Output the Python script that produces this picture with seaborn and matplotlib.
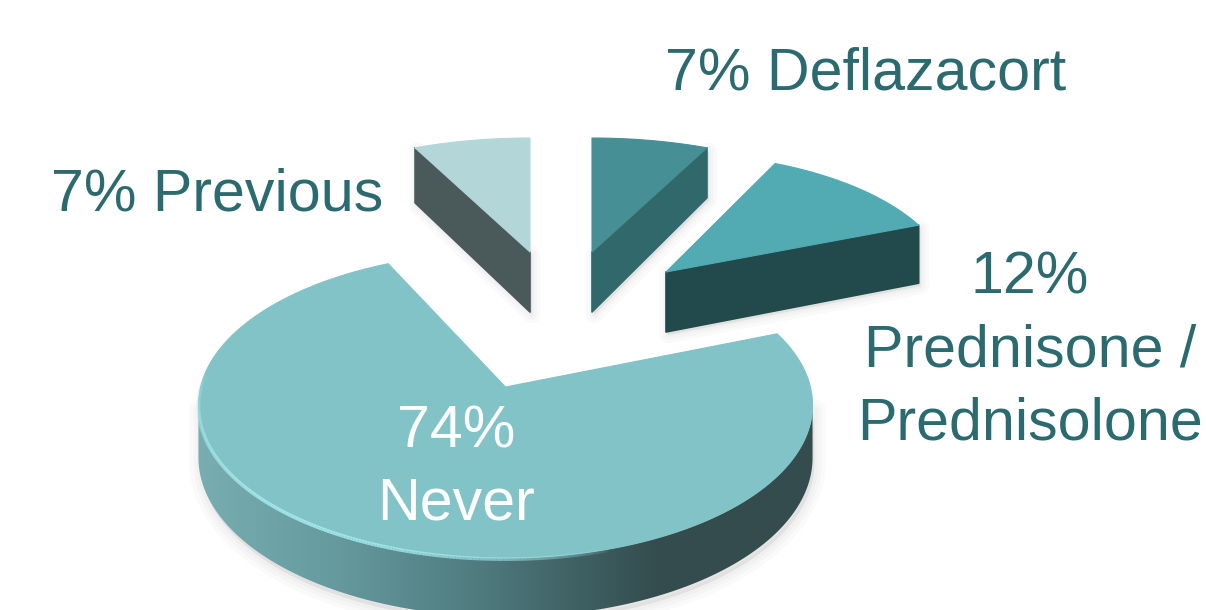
import numpy as np
import matplotlib
matplotlib.use("Agg")
import matplotlib.pyplot as plt
from matplotlib.collections import LineCollection
from matplotlib.colors import LinearSegmentedColormap, to_rgb
from matplotlib.patches import Polygon
import seaborn as sns

# Share of patients by corticosteroid use, clockwise from twelve o'clock
categories = ["Deflazacort", "Prednisone /\nPrednisolone", "Never", "Previous"]
shares = [7, 12, 74, 7]

sns.set_theme(style="white")
plt.rcParams["font.family"] = ["Liberation Sans", "DejaVu Sans"]

TEXT = "#2b6a6e"
TOP = ["#458f95", "#52abb3", "#82c3c8", "#b3d6d9"]
FACE = ["#30686b", "#22494b", None, "#4a5a5b"]

# Perspective of the tilted disc
PERSP = 0.118
RX, RY = 304.9, 150.8
FONT = 42.6

# apex position, horizontal and vertical scale, extrusion at apex and rim
LAYOUT = [
    dict(apex=(592, 252), sx=0.98, sy=0.845, ha=60, hr=50),
    dict(apex=(666, 272), sx=0.93, sy=0.88, ha=60, hr=58),
    dict(apex=(505.5, 387), sx=1.00, sy=1.00, ha=52, hr=52),
    dict(apex=(530, 252), sx=0.98, sy=0.845, ha=60, hr=55),
]


def rim(theta, lay):
    """Screen position of the rim of a slice at the given angles (radians)."""
    u, v = np.cos(theta), np.sin(theta)
    s = 1 / (1 + PERSP * v)
    return (lay["apex"][0] + lay["sx"] * RX * u * s,
            lay["apex"][1] - lay["sy"] * RY * v * s, s)


def halo(ax, x, y, dx=0, dy=0, widths=(16, 10, 5), alpha=0.02):
    """Soft contact shadow built from stacked translucent outlines."""
    for w in widths:
        ax.add_patch(Polygon(np.c_[x + dx, y + dy], closed=True, fc="#000000", ec="#000000",
                             lw=w, alpha=alpha, joinstyle="round", zorder=1))


def fading_rim(ax, x, y, color, lw, peak):
    """Rim highlight whose opacity tapers to nothing at both ends."""
    pts = np.c_[x, y]
    segs = np.stack([pts[:-1], pts[1:]], axis=1)
    ramp = np.sin(np.linspace(0, np.pi, len(segs))) ** 0.6
    rgba = np.c_[np.tile(to_rgb(color), (len(segs), 1)), peak * ramp]
    ax.add_collection(LineCollection(segs, colors=rgba, linewidths=lw, zorder=4,
                                     capstyle="butt"))


fig = plt.figure(figsize=(12.06, 6.10), dpi=100)
ax = fig.add_axes([0, 0, 1, 1])
ax.set_xlim(0, 1206)
ax.set_ylim(610, 0)
ax.axis("off")

# Clockwise slice boundaries, starting from the top of the disc
edges = np.pi / 2 - 2 * np.pi * np.cumsum([0] + shares) / sum(shares)

for i, lay in enumerate(LAYOUT):
    t0, t1 = edges[i], edges[i + 1]
    th = np.linspace(t0, t1, 240)
    x, y, _ = rim(th, lay)
    ax0, ay0 = lay["apex"]
    top_x = np.r_[ax0, x]
    top_y = np.r_[ay0, y]

    if categories[i] == "Never":
        # Outer wall with a left-to-right shading ramp
        left = -np.pi + np.arcsin(PERSP)
        right = -np.arcsin(PERSP)
        band = np.linspace(right, left, 240)
        bx, by, bs = rim(band, lay)
        wall_y = by + lay["ha"] * bs
        wall = np.c_[np.r_[bx, bx[::-1]], np.r_[by, wall_y[::-1]]]
        halo(ax, wall[:, 0], wall[:, 1], dx=2, dy=5)
        ramp = LinearSegmentedColormap.from_list(
            "wall", [(0.0, "#78adb2"), (0.22, "#659a9f"), (0.45, "#507c80"),
                     (0.62, "#3f6063"), (0.75, "#344c4e"), (1.0, "#344c4e")])
        img = ax.imshow(np.linspace(0, 1, 512)[None, :], cmap=ramp, aspect="auto",
                        extent=(bx.min(), bx.max(), 610, 250), zorder=2)
        clip = Polygon(wall, closed=True, transform=ax.transData, fc="none", ec="none")
        ax.add_patch(clip)
        img.set_clip_path(clip)
        ax.set_xlim(0, 1206)
        ax.set_ylim(610, 0)
    else:
        # Cut face on the open side of the slice
        end = t0 if categories[i] == "Previous" else t1
        ex, ey, _ = rim(np.array([end]), lay)
        face = np.array([[ax0, ay0], [ex[0], ey[0]],
                         [ex[0], ey[0] + lay["hr"]], [ax0, ay0 + lay["ha"]]])
        halo(ax, face[:, 0], face[:, 1], dx=2, dy=3, widths=(12, 7, 3), alpha=0.018)
        ax.add_patch(Polygon(face, closed=True, fc=FACE[i], ec=FACE[i], lw=1.2,
                             joinstyle="round", zorder=2))

    ax.add_patch(Polygon(np.c_[top_x, top_y], closed=True, fc=TOP[i], ec=TOP[i], lw=0.8,
                         joinstyle="round", zorder=3))

    if categories[i] == "Never":
        # Bevel highlight along the near-left rim
        gl = np.linspace(np.radians(-186), np.radians(-72), 200)
        hx, hy, _ = rim(gl, lay)
        fading_rim(ax, hx, hy + 1.2, "#a8eef3", 2.6, 0.85)

# Slice labels
ax.text(866, 74, f"{shares[0]}% {categories[0]}", color=TEXT, fontsize=FONT,
        ha="center", va="center", zorder=5)
ax.text(1030, 351, f"{shares[1]}%\n{categories[1]}", color=TEXT, fontsize=FONT,
        ha="center", va="center", linespacing=1.42, zorder=5)
ax.text(456, 468, f"{shares[2]}%\n{categories[2]}", color="white", fontsize=FONT,
        ha="center", va="center", linespacing=1.40, zorder=5)
ax.text(217, 195, f"{shares[3]}% {categories[3]}", color=TEXT, fontsize=FONT,
        ha="center", va="center", zorder=5)

fig.savefig("out.png", dpi=100, facecolor="white")
